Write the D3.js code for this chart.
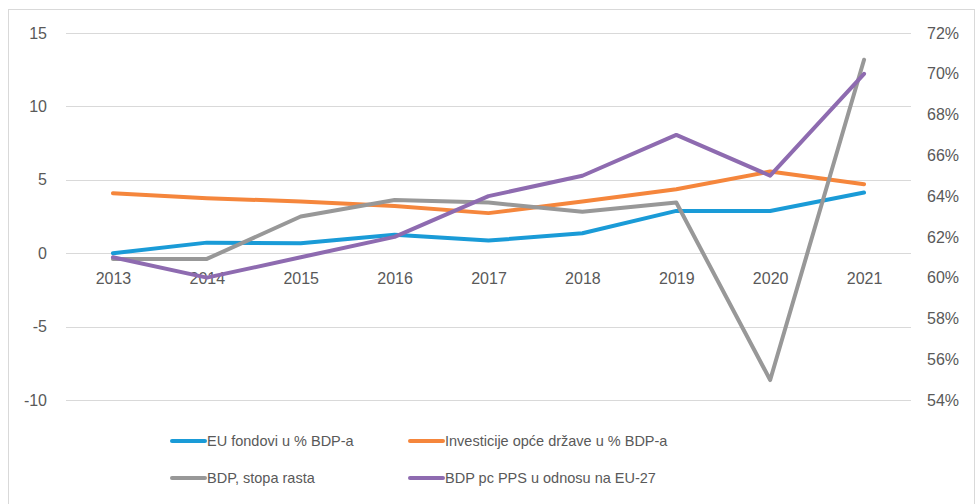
<!DOCTYPE html>
<html><head><meta charset="utf-8">
<script src="https://cdn.jsdelivr.net/npm/d3@7"></script>
<style>body{margin:0;background:#fff;}svg{display:block;font-family:"Liberation Sans",Arial,sans-serif;}</style>
</head><body><svg id="c" width="976" height="504"></svg>
<script>
const years = ["2013","2014","2015","2016","2017","2018","2019","2020","2021"];
const euFunds = [0.0, 0.72, 0.68, 1.25, 0.86, 1.36, 2.88, 2.88, 4.13];
const govInvest = [4.09, 3.75, 3.52, 3.22, 2.73, 3.52, 4.36, 5.56, 4.70];
const gdpGrowth = [-0.39, -0.39, 2.50, 3.63, 3.45, 2.82, 3.45, -8.64, 13.18];
const gdpPcPps = [61.0, 60.0, 61.0, 62.0, 64.0, 65.0, 67.0, 65.0, 70.0];
const leftTicks = [-10, -5, 0, 5, 10, 15];
const rightTicks = [54, 56, 58, 60, 62, 64, 66, 68, 70, 72];
const seriesNames = ["EU fondovi u % BDP-a","Investicije opće države u % BDP-a","BDP, stopa rasta","BDP pc PPS u odnosu na EU-27"];
const colors = ["#1a9bd7","#f5863c","#989898","#8e6bb0"];

const svg = d3.select("#c");
svg.append("rect").attr("x",8.5).attr("y",9.5).attr("width",966).attr("height",520)
  .attr("fill","#fff").attr("stroke","#d9d9d9");

const L = 66, R = 911, T = 33, B = 400;
const x = d3.scalePoint().domain(years).range([L, R]).padding(0.5);
const yL = d3.scaleLinear().domain([-10, 15]).range([B, T]);
const yR = d3.scaleLinear().domain([54, 72]).range([B, T]);

// gridlines
svg.append("g").selectAll("line").data(leftTicks).join("line")
  .attr("x1", L).attr("x2", R)
  .attr("y1", d => Math.round(yL(d)) + 0.5).attr("y2", d => Math.round(yL(d)) + 0.5)
  .attr("stroke", "#d9d9d9").attr("stroke-width", 1);

// left axis
const gL = svg.append("g").attr("transform", `translate(${L - 19},0)`)
  .call(d3.axisLeft(yL).tickValues(leftTicks).tickSize(0).tickPadding(0).tickFormat(d => String(d)));
gL.select(".domain").remove();
gL.selectAll("text").attr("fill", "#595959").attr("font-size", 16);

// right axis
const gR = svg.append("g").attr("transform", `translate(${R + 16},0)`)
  .call(d3.axisRight(yR).tickValues(rightTicks).tickSize(0).tickPadding(0).tickFormat(d => d + "%"));
gR.select(".domain").remove();
gR.selectAll("text").attr("fill", "#595959").attr("font-size", 16);

// x axis labels at y=0
const gX = svg.append("g").attr("transform", `translate(0,${yL(0) + 19})`)
  .call(d3.axisBottom(x).tickSize(0).tickPadding(0));
gX.select(".domain").remove();
gX.selectAll("text").attr("fill", "#595959").attr("font-size", 16);

const lineL = d3.line().x((d, i) => x(years[i])).y(d => yL(d));
const lineR = d3.line().x((d, i) => x(years[i])).y(d => yR(d));
const series = [[euFunds, lineL], [govInvest, lineL], [gdpGrowth, lineL], [gdpPcPps, lineR]];
series.forEach(([data, gen], i) => {
  svg.append("path").attr("d", gen(data)).attr("fill", "none")
    .attr("stroke", colors[i]).attr("stroke-width", 4)
    .attr("stroke-linejoin", "round").attr("stroke-linecap", "round");
});

// legend
const legPos = [[172, 441], [410, 441], [172, 478], [410, 478]];
seriesNames.forEach((name, i) => {
  const [lx, ly] = legPos[i];
  const g = svg.append("g");
  g.append("line").attr("x1", lx).attr("x2", lx + 33).attr("y1", ly).attr("y2", ly)
    .attr("stroke", colors[i]).attr("stroke-width", 4).attr("stroke-linecap", "round");
  g.append("text").attr("x", lx + 35).attr("y", ly + 5).attr("fill", "#595959")
    .attr("font-size", 14.5).text(name);
});
</script></body></html>
